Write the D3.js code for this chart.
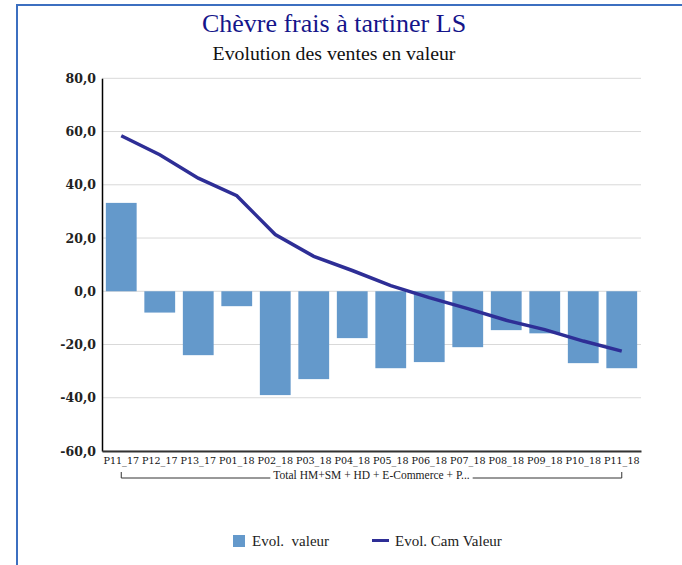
<!DOCTYPE html>
<html><head><meta charset="utf-8">
<script src="https://cdn.jsdelivr.net/npm/d3@7"></script>
<style>body{margin:0;background:#fff}svg{display:block}</style>
</head><body>
<script>
const categories = ["P11_17","P12_17","P13_17","P01_18","P02_18","P03_18","P04_18","P05_18","P06_18","P07_18","P08_18","P09_18","P10_18","P11_18"];
const evolValeur = [33.2,-8.0,-24.0,-5.6,-39.0,-33.0,-17.6,-28.9,-26.6,-21.0,-14.6,-15.8,-27.0,-28.9];
const evolCam = [58.4,51.3,42.5,35.9,21.3,13.1,7.8,2.1,-2.4,-6.5,-10.9,-14.4,-18.7,-22.5];
const yTicks = [80,60,40,20,0,-20,-40,-60];
const groupLabel = "Total HM+SM + HD + E-Commerce + P...";
const title = "Chèvre frais à tartiner LS";
const subtitle = "Evolution des ventes en valeur";
const legendLabels = ["Evol.  valeur","Evol. Cam Valeur"];

const W=682,H=565;
const svg=d3.select("body").append("svg").attr("width",W).attr("height",H);
svg.append("rect").attr("x",17).attr("y",5).attr("width",W).attr("height",H).attr("fill","#fff").attr("stroke","#3c6fc0").attr("stroke-width",2);

const serif="'DejaVu Serif', serif";
svg.append("text").attr("x",334).attr("y",32).attr("text-anchor","middle").attr("font-family","'Liberation Serif', serif").attr("font-size",26).attr("fill","#15158a").text(title);
svg.append("text").attr("x",334).attr("y",60).attr("text-anchor","middle").attr("font-family","'Liberation Serif', serif").attr("font-size",19.8).attr("fill","#111").text(subtitle);

const x=d3.scaleBand().domain(categories).range([102,641]).paddingInner(0.2).paddingOuter(0.1);
const y=d3.scaleLinear().domain([-60,80]).range([451,78.3]);

const grid=svg.append("g");
grid.selectAll("line").data(yTicks).join("line").attr("x1",102).attr("x2",641).attr("y1",d=>y(d)).attr("y2",d=>y(d)).attr("stroke","#d9d9d9").attr("stroke-width",1);

svg.append("g").selectAll("rect").data(evolValeur).join("rect")
 .attr("x",(d,i)=>x(categories[i])).attr("width",x.bandwidth())
 .attr("y",d=>y(Math.max(0,d))).attr("height",d=>Math.abs(y(d)-y(0)))
 .attr("fill","#6499cb");

const xc=d=>x(d)+x.bandwidth()/2;
svg.append("path").datum(evolCam).attr("fill","none").attr("stroke","#2e2e96").attr("stroke-width",3.5)
 .attr("d",d3.line().x((d,i)=>xc(categories[i])).y(d=>y(d)));

// y axis
const yAxis=d3.axisLeft(y).tickValues(yTicks).tickSize(0).tickPadding(6).tickFormat(d=>d3.format(".1f")(d).replace(".",",").replace("−","-"));
const ya=svg.append("g").attr("transform","translate(102,0)").call(yAxis);
ya.select(".domain").attr("stroke","#000").attr("stroke-width",1.5);
ya.selectAll("text").attr("font-family",serif).attr("font-size",12.5).attr("font-weight","bold").attr("fill","#222");

// x axis
const xAxis=d3.axisBottom(x).tickSize(0).tickPadding(6);
const xa=svg.append("g").attr("transform","translate(0,451)").call(xAxis);
xa.select(".domain").attr("stroke","#333").attr("stroke-width",2);
xa.selectAll("text").attr("font-family",serif).attr("font-size",9.6).attr("fill","#111");

// group bracket
const gl=svg.append("g");
const bx1=xc(categories[0]), bx2=xc(categories[categories.length-1]);
const gt=gl.append("text").attr("x",(bx1+bx2)/2).attr("y",479).attr("text-anchor","middle").attr("font-family","'Liberation Serif', serif").attr("font-size",11.5).attr("fill","#222").text(groupLabel);
const tw=gt.node().getComputedTextLength();
const mid=(bx1+bx2)/2;
gl.append("path").attr("d",`M${bx1},472V478H${mid-tw/2-3}M${mid+tw/2+3},478H${bx2}V472`).attr("fill","none").attr("stroke","#333").attr("stroke-width",1);

// legend
const lg=svg.append("g").attr("font-family","'Liberation Serif', serif").attr("font-size",15).attr("fill","#222");
lg.append("rect").attr("x",233).attr("y",535).attr("width",12).attr("height",12).attr("fill","#6499cb");
lg.append("text").attr("x",252).attr("y",545.5).attr("xml:space","preserve").style("white-space","pre").text(legendLabels[0]);
lg.append("line").attr("x1",372).attr("x2",389).attr("y1",540.5).attr("y2",540.5).attr("stroke","#2e2e96").attr("stroke-width",3);
lg.append("text").attr("x",395).attr("y",545.5).text(legendLabels[1]);
</script>
</body></html>
